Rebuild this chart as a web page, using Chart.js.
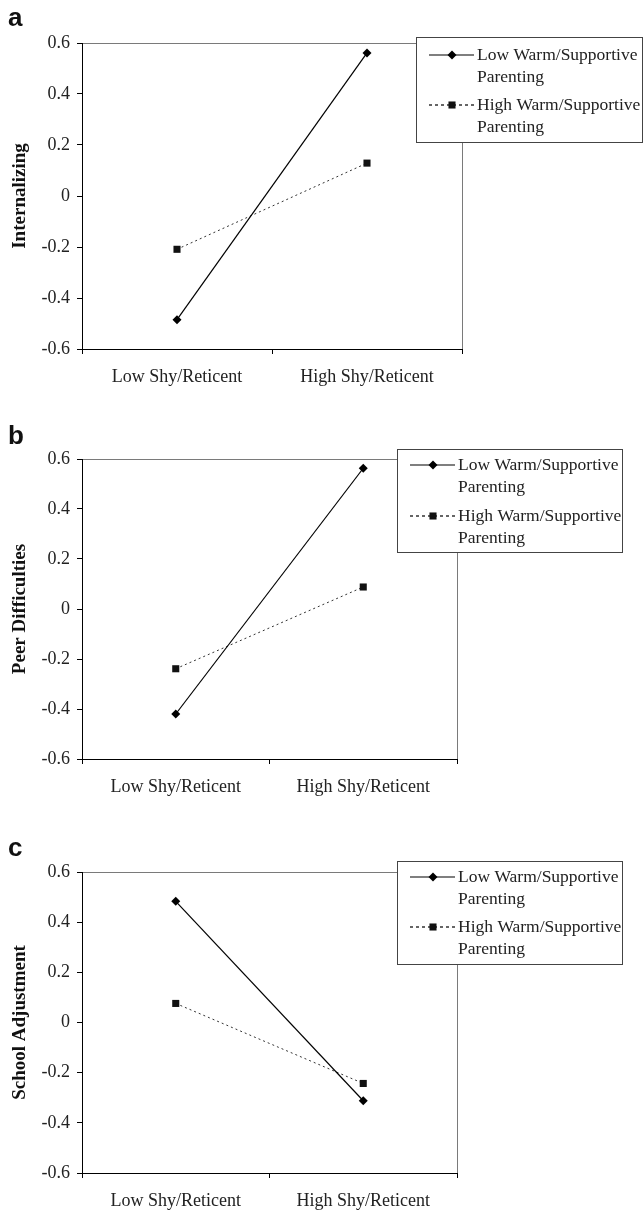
<!DOCTYPE html>
<html lang="en">
<head>
<meta charset="UTF-8">
<title>Shy/Reticent by Warm/Supportive Parenting</title>
<script src="https://cdn.jsdelivr.net/npm/chart.js"></script>
<style>
  body { margin: 0; background: #fff; }
  #page { position: relative; width: 643px; height: 1211px; overflow: hidden; }
  .panel { position: absolute; left: 0; width: 643px; }
  .letter { position: absolute; left: 8px; font: bold 26px "Liberation Sans", Arial, sans-serif; line-height: 26px; color: #111; }
</style>
</head>
<body>
<div id="page">
  <div class="panel" style="top:0;height:400px"><canvas id="chartA"></canvas></div>
  <div class="panel" style="top:400px;height:410px"><canvas id="chartB"></canvas></div>
  <div class="panel" style="top:810px;height:401px"><canvas id="chartC"></canvas></div>
  <div class="letter" style="top:4px">a</div>
  <div class="letter" style="top:422px">b</div>
  <div class="letter" style="top:834px">c</div>
</div>
<script>
const categories = ['Low Shy/Reticent', 'High Shy/Reticent'];
const seriesNames = [['Low Warm/Supportive', 'Parenting'], ['High Warm/Supportive', 'Parenting']];
const yTicks = [-0.6, -0.4, -0.2, 0, 0.2, 0.4, 0.6];
const yTickLabels = ['-0.6', '-0.4', '-0.2', '0', '0.2', '0.4', '0.6'];

// a: Internalizing
const internalizingLow = [-0.485, 0.561];
const internalizingHigh = [-0.209, 0.129];
// b: Peer Difficulties
const peerLow = [-0.42, 0.563];
const peerHigh = [-0.239, 0.088];
// c: School Adjustment
const schoolLow = [0.483, -0.312];
const schoolHigh = [0.076, -0.243];

const serif = '"Liberation Serif", "Times New Roman", serif';

function marker(ctx, style, r, x, y) {
    ctx.beginPath();
    if (style === 'rectRot') {
        ctx.moveTo(x, y - r); ctx.lineTo(x + r, y); ctx.lineTo(x, y + r); ctx.lineTo(x - r, y);
    } else {
        const s = r * Math.SQRT1_2;
        ctx.rect(x - s, y - s, 2 * s, 2 * s);
    }
    ctx.closePath();
    ctx.fill();
}

// gray plot-area frame, axes drawn over it in black
const frame = {
    id: 'frame',
    beforeDraw(chart) {
        const a = chart.chartArea, ctx = chart.ctx;
        ctx.save();
        ctx.strokeStyle = '#7a7a7a';
        ctx.lineWidth = 1;
        ctx.strokeRect(Math.round(a.left) + 0.5, Math.round(a.top) + 0.5, Math.round(a.right - a.left), Math.round(a.bottom - a.top));
        ctx.restore();
    }
};

// boxed legend with line + marker samples and two-line names
const boxLegend = {
    id: 'boxLegend',
    afterDraw(chart, args, o) {
        const ctx = chart.ctx;
        ctx.save();
        ctx.fillStyle = '#fff';
        ctx.fillRect(o.x, o.y, o.w, o.h);
        ctx.strokeStyle = '#444';
        ctx.lineWidth = 1;
        ctx.strokeRect(o.x + 0.5, o.y + 0.5, o.w, o.h);
        chart.data.datasets.forEach((ds, i) => {
            const ry = o.y + o.rows[i];
            ctx.strokeStyle = ds.borderColor;
            ctx.lineWidth = i === 0 ? 1.2 : 1.6;
            ctx.setLineDash(i === 0 ? [] : [3, 3]);
            ctx.beginPath();
            ctx.moveTo(o.x + 13, ry);
            ctx.lineTo(o.x + 58, ry);
            ctx.stroke();
            ctx.setLineDash([]);
            ctx.fillStyle = ds.pointBackgroundColor;
            marker(ctx, ds.pointStyle, ds.pointRadius, o.x + 36, ry);
            ctx.fillStyle = '#222';
            ctx.font = '17.5px ' + serif;
            ctx.textBaseline = 'middle';
            seriesNames[i].forEach((t, k) => ctx.fillText(t, o.x + 61, ry + k * 22));
        });
        ctx.restore();
    }
};

function makePanel(id, title, lowData, highData, p) {
    new Chart(document.getElementById(id), {
        type: 'line',
        data: {
            labels: categories,
            datasets: [{
                label: seriesNames[0].join(' '),
                data: lowData,
                borderColor: '#000',
                borderWidth: 1.2,
                pointStyle: 'rectRot',
                pointRadius: 4.5,
                pointBackgroundColor: '#000',
                pointBorderWidth: 0,
                tension: 0
            }, {
                label: seriesNames[1].join(' '),
                data: highData,
                borderColor: '#333',
                borderWidth: 1,
                borderDash: [2, 3],
                pointStyle: 'rect',
                pointRadius: 5,
                pointBackgroundColor: '#111',
                pointBorderWidth: 0,
                tension: 0
            }]
        },
        options: {
            responsive: true,
            maintainAspectRatio: false,
            animation: false,
            layout: { padding: { top: p.top, right: p.right, left: 0, bottom: 0 } },
            plugins: {
                legend: { display: false },
                tooltip: { enabled: false },
                boxLegend: p.legend
            },
            scales: {
                x: {
                    offset: true,
                    grid: { offset: true, drawOnChartArea: false, tickLength: 5, tickColor: '#000' },
                    border: { color: '#000', width: 1 },
                    ticks: { color: '#222', font: { family: serif, size: 18 }, padding: 12, maxRotation: 0 },
                    afterFit: s => { s.height = p.axisH; }
                },
                y: {
                    min: -0.6,
                    max: 0.6,
                    afterBuildTicks: s => { s.ticks = yTicks.map(v => ({ value: v })); },
                    grid: { drawOnChartArea: false, tickLength: 5, tickColor: '#000' },
                    border: { color: '#000', width: 1 },
                    ticks: { color: '#222', font: { family: serif, size: 18 }, padding: 7, callback: (v, i) => yTickLabels[i] },
                    title: { display: true, text: title, color: '#111', font: { family: serif, size: 19, weight: 'bold' }, padding: { top: 9, bottom: 0 } },
                    afterFit: s => { s.width = 82; }
                }
            }
        },
        plugins: [frame, boxLegend]
    });
}

makePanel('chartA', 'Internalizing', internalizingLow, internalizingHigh,
    { top: 43, right: 181, axisH: 51, legend: { x: 416, y: 37, w: 226, h: 105, rows: [18, 68] } });
makePanel('chartB', 'Peer Difficulties', peerLow, peerHigh,
    { top: 59, right: 186, axisH: 51, legend: { x: 397, y: 49, w: 225, h: 103, rows: [16, 67] } });
makePanel('chartC', 'School Adjustment', schoolLow, schoolHigh,
    { top: 62, right: 186, axisH: 38, legend: { x: 397, y: 51, w: 225, h: 103, rows: [16, 66] } });
</script>
</body>
</html>
